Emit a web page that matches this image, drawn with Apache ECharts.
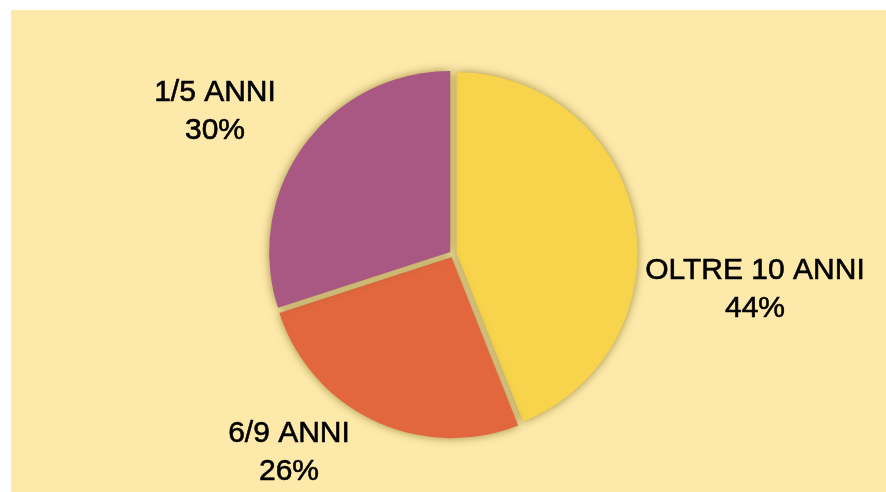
<!DOCTYPE html>
<html>
<head>
<meta charset="utf-8">
<script src="https://cdn.jsdelivr.net/npm/echarts@6/dist/echarts.min.js"></script>
<style>
  html, body { margin: 0; padding: 0; background: #FDEAAA; overflow: hidden; }
  .strip { position: absolute; background: #fff; }
  #chart { position: absolute; left: 11px; top: 10px; width: 875px; height: 482px; }
</style>
</head>
<body>
<div class="strip" style="left:0;top:0;width:2000px;height:10px"></div>
<div class="strip" style="left:0;top:0;width:11px;height:2000px"></div>
<div id="chart"></div>
<script>
const categories = ['OLTRE 10 ANNI', '6/9 ANNI', '1/5 ANNI']
const values = [44, 26, 30]
const colors = ['#F8D44C', '#E2673F', '#A85882']
// label centres (px inside the chart box)
const labelPos = [[744, 280], [278, 443], [204, 102]]

const chart = echarts.init(document.getElementById('chart'))
const total = values.reduce((a, b) => a + b, 0)

chart.setOption({
  backgroundColor: '#FDEAAA',
  animation: false,
  graphic: categories.map((name, i) => ({
    type: 'text',
    x: labelPos[i][0],
    y: labelPos[i][1],
    style: {
      text: `${name}\n${Math.round(values[i] / total * 100)}%`,
      fontFamily: 'Liberation Sans',
      fontSize: 30,
      lineHeight: 38,
      fill: '#000',
      stroke: '#000',
      lineWidth: 0.6,
      align: 'center',
      verticalAlign: 'middle'
    }
  })),
  series: [
    {
      type: 'pie',
      center: [442, 244],
      radius: 181,
      startAngle: 90,
      clockwise: true,
      selectedMode: 'multiple',
      selectedOffset: 3.5,
      emphasis: { disabled: true },
      itemStyle: {
        shadowBlur: 10,
        shadowColor: 'rgba(100, 80, 0, 0.6)'
      },
      label: { show: false },
      labelLine: { show: false },
      data: categories.map((name, i) => ({
        name,
        value: values[i],
        selected: true,
        itemStyle: { color: colors[i] }
      }))
    }
  ]
})
</script>
</body>
</html>
